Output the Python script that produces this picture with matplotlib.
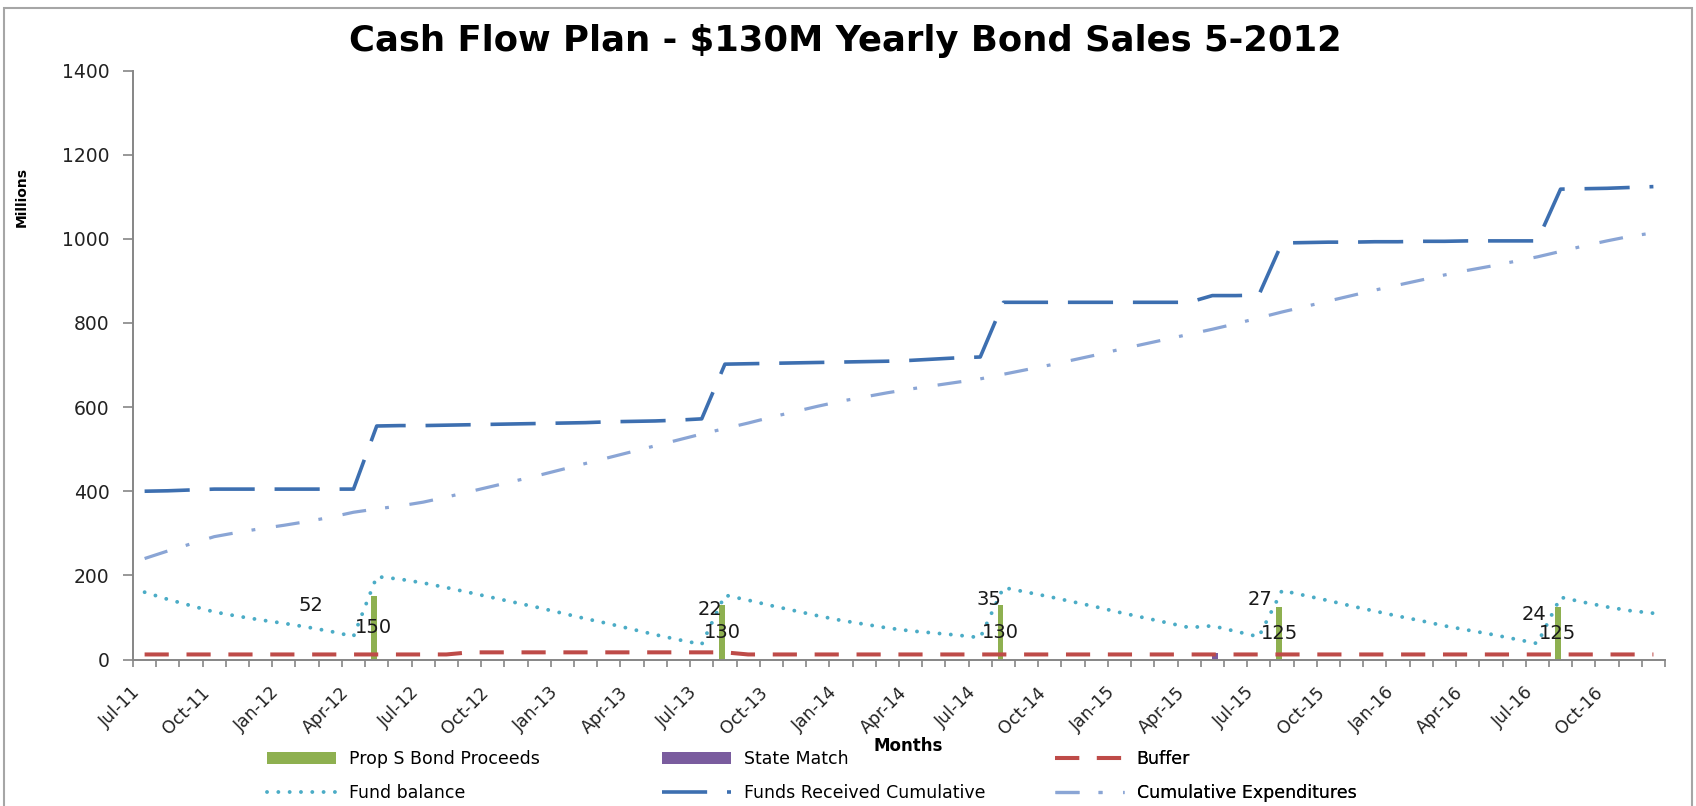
import matplotlib
matplotlib.use("Agg")
import matplotlib.pyplot as plt
import numpy as np
import pandas as pd
from matplotlib.patches import Rectangle

# Months on the category axis (Jul-11 .. Dec-16)
months = list(pd.date_range("2011-07-01", periods=66, freq="MS").strftime("%b-%y"))

# Bond sales and state match (millions)
bond_months = ["May-12", "Aug-13", "Aug-14", "Aug-15", "Aug-16"]
bond_values = [150, 130, 130, 125, 125]
match_months = ["May-15"]
match_values = [15]

# Extra value labels shown next to the bond bars
side_labels = ["52", "22", "35", "27", "24"]
side_label_x = [7.7, 24.9, 36.9, 48.6, 60.4]
side_label_y = [128, 120, 143, 143, 106]

# Monthly series (millions)
funds_received = [400, 401, 403, 405, 405, 405, 405, 405, 405, 405,
                  555, 556, 556, 557, 558, 559, 560, 561, 562, 563,
                  565, 566, 567, 569, 572, 702, 703, 704, 705, 706,
                  707, 708, 709, 711, 714, 717, 719, 849, 849, 849,
                  849, 849, 849, 849, 849, 849, 865, 865, 866, 990,
                  991, 992, 992, 993, 993, 994, 994, 995, 995, 995,
                  995, 1118, 1119, 1120, 1122, 1124]
cum_expend = [240, 258, 275, 292, 302, 311, 319, 328, 338, 350,
              358, 365, 374, 386, 399, 412, 425, 438, 452, 466,
              480, 494, 508, 522, 536, 549, 562, 576, 589, 602,
              614, 624, 634, 643, 651, 659, 667, 678, 689, 700,
              712, 724, 737, 749, 761, 773, 785, 798, 812, 826,
              839, 852, 865, 878, 890, 902, 914, 925, 935, 946,
              957, 970, 983, 995, 1006, 1014]
fund_balance = [160, 143, 128, 113, 103, 94, 86, 77, 67, 55,
                197, 191, 182, 171, 159, 147, 135, 123, 110, 97,
                85, 72, 59, 47, 36, 153, 141, 128, 116, 104,
                93, 84, 75, 68, 63, 58, 52, 171, 160, 149,
                137, 125, 112, 100, 88, 76, 80, 67, 54, 164,
                152, 140, 127, 115, 103, 92, 80, 70, 60, 49,
                38, 148, 136, 125, 116, 110]
buffer = [12] * 14 + [17] * 12 + [12] * 40

prop_s = np.zeros(len(months))
for m, v in zip(bond_months, bond_values):
    prop_s[months.index(m)] = v
state_match = np.zeros(len(months))
for m, v in zip(match_months, match_values):
    state_match[months.index(m)] = v

W, H = 1696, 806
fig = plt.figure(figsize=(W / 100, H / 100), dpi=100)
ax = fig.add_axes([133 / W, 1 - 659.5 / H, (1665 - 133) / W, (659.5 - 70.5) / H])

x = np.arange(len(months))
b1 = ax.bar(x - 0.125, prop_s, 0.25, color="#8EB050", label="Prop S Bond Proceeds", zorder=2)
b2 = ax.bar(x + 0.125, state_match, 0.25, color="#7A5C9E", label="State Match", zorder=2)

l_buf, = ax.plot(x, buffer, color="#BE4B48", lw=2.9, ls=(0, (6, 4.4)), label="Buffer", zorder=3)
l_fund, = ax.plot(x, fund_balance, color="#4BACC6", lw=2.8, ls=(0, (0.01, 2.9)),
                  dash_capstyle="round", label="Fund balance", zorder=3)
l_rec, = ax.plot(x, funds_received, color="#3D6FB0", lw=2.6, ls=(0, (12.5, 5.5)),
                 label="Funds Received Cumulative", zorder=3)
l_exp, = ax.plot(x, cum_expend, color="#8AA5D5", lw=2.3, ls=(0, (7.5, 6, 1.2, 6.5)),
                 label="Cumulative Expenditures", zorder=3)

# data labels
ax.bar_label(b1, labels=[f"{v:g}" if v else "" for v in prop_s], label_type="center",
             fontsize=14, color="#1a1a1a", zorder=4)
for t, xx, yy in zip(side_labels, side_label_x, side_label_y):
    ax.text(xx, yy, t, ha="right", va="center", fontsize=14, color="#1a1a1a", zorder=4)

# axes styling
ax.set_xlim(-0.5, len(months) - 0.5)
ax.set_ylim(0, 1400)
ax.set_yticks(np.arange(0, 1401, 200))
# rotated labels: nudge the anchor a bit left of the category centre, as Excel does
ax.set_xticks(x[::3] - 0.3)
ax.set_xticklabels(months[::3], rotation=45, ha="right", va="center", rotation_mode="anchor")
ax.set_xticks(np.arange(-0.5, len(months), 1), minor=True)
ax.tick_params(axis="x", which="major", length=0, pad=22, labelsize=12.5, labelcolor="#222222")
ax.tick_params(axis="x", which="minor", length=5, width=1.2, color="#868686", direction="out")
ax.tick_params(axis="y", length=7, width=1.2, color="#868686", pad=10, labelsize=13.5,
               labelcolor="#222222")
for s in ["top", "right"]:
    ax.spines[s].set_visible(False)
for s in ["left", "bottom"]:
    ax.spines[s].set_color("#868686")
    ax.spines[s].set_linewidth(1.4)

ax.set_xlabel("Months", fontsize=12, fontweight="bold")
ax.xaxis.set_label_coords((908 - 133) / 1532, -(746 - 659.5) / 589)
ax.xaxis.label.set_va("center")

fig.text(22 / W, 1 - 197 / H, "Millions", rotation=90, ha="center", va="center",
         fontsize=10, fontweight="bold")
fig.text(845 / W, 1 - 41 / H, "Cash Flow Plan - $130M Yearly Bond Sales 5-2012",
         ha="center", va="center", fontsize=25.5, fontweight="bold")

# legend in three columns, like the Excel layout
cols = [([b1, l_fund], 267), ([b2, l_rec], 662), ([l_buf, l_exp], 1055)]
for handles, left in cols:
    leg = ax.legend(handles=handles, loc="upper left", bbox_to_anchor=(left / W, 1 - 750 / H),
                    bbox_transform=fig.transFigure, frameon=False, fontsize=12.5,
                    handlelength=4.0, handletextpad=0.7, labelspacing=0.95,
                    borderpad=0, borderaxespad=0)
    ax.add_artist(leg)

# chart area border
fig.patches.append(Rectangle((4 / W, -0.05), (1692 - 4) / W, 1.05 - 8 / H, fill=False,
                             edgecolor="#A6A6A6", lw=1.5, transform=fig.transFigure))

fig.savefig("out.png", dpi=100)
